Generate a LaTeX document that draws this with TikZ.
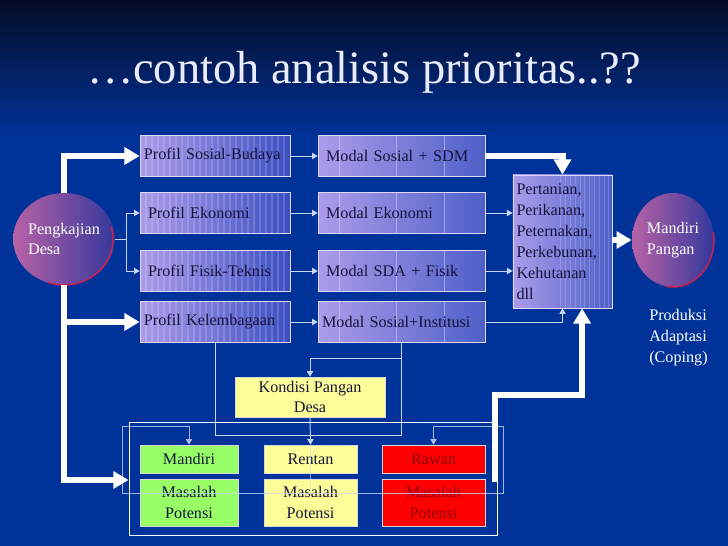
\documentclass[tikz,border=0pt]{standalone}
\usepackage{fontspec}
\setmainfont{Liberation Serif}
\usetikzlibrary{arrows.meta, shapes.geometric}
\definecolor{bg-top}{HTML}{040B26}
\definecolor{bg-blue}{HTML}{00339A}
\definecolor{box-light}{HTML}{AC9CEA}
\definecolor{box-dark}{HTML}{3A4EC2}
\definecolor{ink}{HTML}{14143C}
\definecolor{pale-yellow}{HTML}{FFFF99}
\definecolor{light-green}{HTML}{99FF66}
\definecolor{alarm-red}{HTML}{FF0000}
\definecolor{dark-red}{HTML}{8A0000}
\definecolor{orb-pink}{HTML}{B862A6}
\definecolor{orb-blue}{HTML}{34389C}
\definecolor{orb-rim}{HTML}{D0204A}
\definecolor{thin-line}{HTML}{C8D4F4}

\tikzset{
  txt/.style={font=\fontsize{11.5}{14.9}\selectfont},
  profil/.style={txt, draw=white!60!box-light, line width=0.5pt,
    left color=box-light, right color=box-dark, text=ink,
    text width=3.55cm, align=left, inner xsep=0.1cm,
    minimum height=1.02cm,
    path picture={\foreach \s in {0.15,0.3,...,3.61}
      \draw[white, opacity=0.16, line width=1.3pt]
        ([xshift=\s cm]path picture bounding box.south west) --
        ([xshift=\s cm]path picture bounding box.north west);}},
  modal/.style={txt, draw=white!60!box-light, line width=0.5pt,
    left color=box-light, right color=box-dark!90!white, text=ink,
    text width=3.975cm, align=left, inner xsep=0.1cm,
    minimum height=1.02cm,
    path picture={\foreach \s in {0.54,1.96,3.17}
      \draw[white, opacity=0.35, line width=0.6pt]
        ([xshift=\s cm]path picture bounding box.south west) --
        ([xshift=\s cm]path picture bounding box.north west);}},
  orb/.style={txt, ellipse, inner sep=0pt, left color=orb-pink,
    right color=orb-blue, text=white, align=left},
  tile/.style={txt, draw=white!85!black, line width=0.4pt, align=center,
    inner sep=0pt},
  fatline/.style={draw=white, line width=4.5pt},
  fatarrow/.style={fatline, -{Triangle[length=0.38cm, width=0.42cm]}},
  thinline/.style={draw=thin-line, line width=0.7pt},
  thinarrow/.style={thinline, -{Triangle[length=4pt, width=4.5pt]}}
}

\begin{document}
\begin{tikzpicture}
  % background
  \fill[bg-blue] (0,0) rectangle (18.2,13.65);
  \shade[top color=bg-top, bottom color=bg-blue] (0,10.2) rectangle (18.2,13.65);
  \useasboundingbox (0,0) rectangle (18.2,13.65);

  % title
  \node[font=\fontsize{33}{36}\selectfont, text=white!92!blue] (title)
    at (9.1,11.85) {\ldots contoh analisis prioritas..??};

  % start and end
  \node[orb, minimum width=2.45cm, minimum height=2.3cm] (pk) at (1.6,7.675)
    {Pengkajian\\Desa};
  \draw[orb-rim, line width=1pt] ([shift={(-110:1.225 and 1.15)}]pk.center)
    arc[start angle=-110, end angle=15, x radius=1.225, y radius=1.15];
  \node[orb, minimum width=2.05cm, minimum height=2.35cm] (mpangan) at (16.825,7.65)
    {Mandiri\\Pangan\hspace{0.2cm}};
  \draw[orb-rim, line width=1pt] ([shift={(-100:1.025 and 1.175)}]mpangan.center)
    arc[start angle=-100, end angle=10, x radius=1.025, y radius=1.175];
  \node[txt, text=white, align=left, anchor=north west, inner sep=0pt] (coping)
    at (16.225,5.93) {Produksi\\Adaptasi\\(Coping)};

  % profil column
  \node[profil] (sosbud) at (5.375,9.75) {Profil Sosial-Budaya};
  \node[profil] (pekon) at (5.375,8.325) {\hspace{0.1cm}Profil Ekonomi};
  \node[profil] (pfisik) at (5.375,6.875) {\hspace{0.1cm}Profil Fisik-Teknis};
  \node[profil] (plembaga) at (5.375,5.6) {Profil Kelembagaan};

  % modal column
  \node[modal] (msdm) at (10.04,9.75) {\hspace{0.1cm}Modal Sosial + SDM};
  \node[modal] (mekon) at (10.04,8.325) {\hspace{0.1cm}Modal Ekonomi};
  \node[modal] (msda) at (10.04,6.875) {\hspace{0.1cm}Modal SDA + Fisik};
  \node[modal] (minst) at (10.04,5.6) {Modal Sosial+Institusi};

  % sectors
  \node[txt, draw=white!60!box-light, line width=0.5pt, left color=box-light,
        right color=box-dark!90!white, text=ink, text width=2.3cm, align=left,
        inner xsep=0.09cm, minimum height=3.325cm,
        path picture={\foreach \s in {1.2,1.32,...,2.41}
          \draw[white, opacity=0.18, line width=0.6pt]
            ([xshift=\s cm]path picture bounding box.south west) --
            ([xshift=\s cm]path picture bounding box.north west);}]
    (pert) at (14.0625,7.6125)
    {Pertanian,\\Perikanan,\\Peternakan,\\Perkebunan,\\Kehutanan\\dll};

  % food condition
  \node[tile, fill=pale-yellow, text=ink, minimum width=3.75cm, minimum height=1cm]
    (kondisi) at (7.75,3.725) {Kondisi Pangan\\Desa};
  \node[draw=white, line width=0.7pt, minimum width=9.2cm, minimum height=2.825cm]
    (frame) at (7.825,1.6875) {};
  \node[tile, fill=light-green, text=ink, minimum width=2.45cm, minimum height=0.7cm]
    (mandiri) at (4.725,2.175) {Mandiri};
  \node[tile, fill=light-green, text=ink, minimum width=2.45cm, minimum height=1.175cm]
    (mandiri-mp) at (4.725,1.0875) {Masalah\\Potensi};
  \node[tile, fill=pale-yellow, text=ink, minimum width=2.325cm, minimum height=0.7cm]
    (rentan) at (7.7625,2.175) {Rentan};
  \node[tile, fill=pale-yellow, text=ink, minimum width=2.325cm, minimum height=1.175cm]
    (rentan-mp) at (7.7625,1.0875) {Masalah\\Potensi};
  \node[tile, fill=alarm-red, text=dark-red, minimum width=2.575cm, minimum height=0.7cm]
    (rawan) at (10.8375,2.175) {Rawan};
  \node[tile, fill=alarm-red, text=dark-red, minimum width=2.575cm, minimum height=1.175cm]
    (rawan-mp) at (10.8375,1.0875) {Masalah\\Potensi};

  % bends
  \coordinate (fork) at (3.15,7.675);
  \coordinate (low-bend) at (1.6,1.65);
  \coordinate (rise-foot) at (12.375,1.6);
  \coordinate (rise-bend) at (12.375,3.775);
  \coordinate (loop-sw) at (5.375,2.775);
  \coordinate (loop-se) at (10.04,2.775);
  \coordinate (kond-bend) at (10.04,4.7);
  \coordinate (ring-nw) at (3.05,3.0);
  \coordinate (ring-sw) at (3.05,1.325);
  \coordinate (ring-se) at (12.575,1.325);
  \coordinate (ring-ne) at (12.575,3.0);

  % thin connectors
  \draw[thinline] (pk.east) -- (fork);
  \draw[thinarrow] (fork) |- (pekon.west);
  \draw[thinarrow] (fork) |- (pfisik.west);
  \draw[thinarrow] (sosbud.east) -- (msdm.west);
  \draw[thinarrow] (pekon.east) -- (mekon.west);
  \draw[thinarrow] (pfisik.east) -- (msda.west);
  \draw[thinarrow] (plembaga.east) -- (minst.west);
  \draw[thinarrow] (mekon.east) -- (mekon.east -| pert.west);
  \draw[thinarrow] (msda.east) -- (msda.east -| pert.west);
  \draw[thinarrow] (minst.east) -| (pert.south);
  \draw[thinline] (plembaga.south) -- (loop-sw) -- (loop-se) -- (minst.south);
  \draw[thinarrow] (kond-bend) -| (kondisi.north);
  \draw[thinarrow] (kondisi.south) -- (rentan.north);
  \draw[thinline, opacity=0.6] (rentan.north) -- (rentan.north |- ring-sw);
  \draw[thinline, opacity=0.8, {Triangle[length=4pt, width=4.5pt]}-{Triangle[length=4pt, width=4.5pt]}]
    (rawan.north) |- (ring-ne) -- (ring-se) -- (ring-sw) -- (ring-nw) -| (mandiri.north);

  % thick connectors
  \draw[fatarrow] (pk.north) |- (sosbud.west);
  \draw[fatarrow] (pk.south) |- (plembaga.west);
  \draw[fatarrow] (pk.south) -- (low-bend) -- (frame.west |- low-bend);
  \draw[fatarrow] (msdm.east) -| (pert.north);
  \draw[fatarrow] (pert.east |- mpangan.west) -- (mpangan.west);
  \draw[fatarrow] (rise-foot) -- (rise-bend) -| ([xshift=0.49cm]pert.south);
\end{tikzpicture}
\end{document}
